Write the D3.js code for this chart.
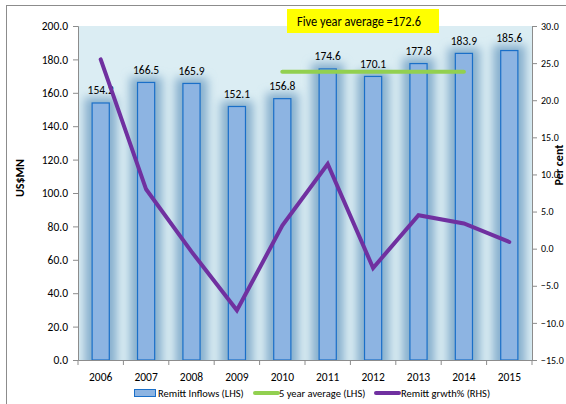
<!DOCTYPE html>
<html>
<head>
<meta charset="utf-8">
<script src="https://cdn.jsdelivr.net/npm/d3@7"></script>
<style>
  body { margin: 0; background: #fff; }
  text { font-family: Carlito, "Liberation Sans Narrow", Lato, sans-serif; fill: #000; }
</style>
</head>
<body>
<div id="canvas"></div>
<script>
"use strict"

/* data */
let years = ["2006", "2007", "2008", "2009", "2010", "2011", "2012", "2013", "2014", "2015"];
let inflows = [154.2, 166.5, 165.9, 152.1, 156.8, 174.6, 170.1, 177.8, 183.9, 185.6];
let growth = [25.5, 8.0, -0.4, -8.3, 3.1, 11.4, -2.6, 4.5, 3.4, 0.9];
let avgYears = ["2010", "2014"];
let avgValue = 172.6;
let leftTicks = [0, 20, 40, 60, 80, 100, 120, 140, 160, 180, 200];
let rightTicks = [-15, -10, -5, 0, 5, 10, 15, 20, 25, 30];

let drawing = d3.select("#canvas")
    .append("svg")
    .attr("width", 566)
    .attr("height", 404);

/* outer chart border */
drawing.append("rect")
    .attr("x", 6.5)
    .attr("y", 5.5)
    .attr("width", 600)
    .attr("height", 450)
    .attr("fill", "white")
    .attr("stroke", "#8c8c8c");

let plotLeft = 78, plotRight = 532, plotTop = 26, plotBottom = 360;

/* scales */
let x = d3.scaleBand()
    .domain(years)
    .range([plotLeft, plotRight])
    .paddingInner(0.6)
    .paddingOuter(0.3);

let yL = d3.scaleLinear().domain([0, 200]).range([plotBottom, plotTop]);
let yR = d3.scaleLinear().domain([-15, 30]).range([plotBottom, plotTop]);

/* defs: glow + clip */
let defs = drawing.append("defs");
defs.append("filter")
    .attr("id", "glow")
    .attr("x", "-100%").attr("y", "-20%")
    .attr("width", "300%").attr("height", "140%")
    .append("feGaussianBlur")
    .attr("stdDeviation", 5);
defs.append("clipPath")
    .attr("id", "plotClip")
    .append("rect")
    .attr("x", plotLeft).attr("y", plotTop)
    .attr("width", plotRight - plotLeft).attr("height", plotBottom - plotTop);

/* plot background */
drawing.append("rect")
    .attr("x", plotLeft)
    .attr("y", plotTop)
    .attr("width", plotRight - plotLeft)
    .attr("height", plotBottom - plotTop)
    .attr("fill", "#dbedf3");

/* bar glow */
drawing.append("g")
    .attr("clip-path", "url(#plotClip)")
    .append("g")
    .attr("filter", "url(#glow)")
    .selectAll("rect")
    .data(inflows)
    .join("rect")
    .attr("x", (d, i) => x(years[i]) - 7)
    .attr("y", d => yL(d) - 5)
    .attr("width", x.bandwidth() + 14)
    .attr("height", d => plotBottom - yL(d) + 20)
    .attr("fill", "#86afcd");

/* bars */
drawing.append("g")
    .selectAll("rect")
    .data(inflows)
    .join("rect")
    .attr("x", (d, i) => x(years[i]) + 0.5)
    .attr("y", d => yL(d) + 0.5)
    .attr("width", x.bandwidth() - 1)
    .attr("height", d => plotBottom - yL(d) - 0.5)
    .attr("fill", "#8db4e2")
    .attr("stroke", "#1a6fc8")
    .attr("stroke-width", 1.2);

/* bar labels */
drawing.append("g")
    .selectAll("text")
    .data(inflows)
    .join("text")
    .attr("x", (d, i) => x(years[i]) + x.bandwidth() / 2)
    .attr("y", d => yL(d) - 8)
    .attr("text-anchor", "middle")
    .attr("font-size", 11.5)
    .text(d => d.toFixed(1));

/* five year average line */
drawing.append("line")
    .attr("x1", x(avgYears[0]) + x.bandwidth() / 2)
    .attr("x2", x(avgYears[1]) + x.bandwidth() / 2)
    .attr("y1", yL(avgValue))
    .attr("y2", yL(avgValue))
    .attr("stroke", "#92d050")
    .attr("stroke-width", 4)
    .attr("stroke-linecap", "round");

/* growth line */
let growthLine = d3.line()
    .x((d, i) => x(years[i]) + x.bandwidth() / 2)
    .y(d => yR(d));

drawing.append("path")
    .datum(growth)
    .attr("d", growthLine)
    .attr("fill", "none")
    .attr("stroke", "#7030a0")
    .attr("stroke-width", 4)
    .attr("stroke-linejoin", "miter")
    .attr("stroke-linecap", "round");

/* axes */
let leftAxis = drawing.append("g")
    .attr("transform", "translate(" + plotLeft + ",0)")
    .call(d3.axisLeft(yL).tickValues(leftTicks).tickFormat(d3.format(".1f")).tickSize(5).tickPadding(5));

let rightAxis = drawing.append("g")
    .attr("transform", "translate(" + plotRight + ",0)")
    .call(d3.axisRight(yR).tickValues(rightTicks).tickFormat(d3.format(".1f")).tickSize(5).tickPadding(4));

let bottomAxis = drawing.append("g")
    .attr("transform", "translate(0," + plotBottom + ")")
    .call(d3.axisBottom(x).tickSize(0).tickPadding(13));

/* category boundary ticks on x axis */
let step = x.step();
drawing.append("g")
    .selectAll("line")
    .data(d3.range(years.length + 1))
    .join("line")
    .attr("x1", k => plotLeft + k * step)
    .attr("x2", k => plotLeft + k * step)
    .attr("y1", plotBottom)
    .attr("y2", plotBottom + 5)
    .attr("stroke", "#8c8c8c");

[leftAxis, rightAxis, bottomAxis].forEach(function (ax) {
    ax.select(".domain").attr("stroke", "#8c8c8c");
    ax.selectAll(".tick line").attr("stroke", "#8c8c8c");
    ax.selectAll("text").attr("font-size", 11.5).attr("fill", "#000")
        .style("font-family", "Carlito, 'Liberation Sans Narrow', Lato, sans-serif");
});
rightAxis.selectAll("text").attr("font-size", 10);

/* axis titles */
drawing.append("text")
    .attr("transform", "translate(24,178) rotate(-90)")
    .attr("text-anchor", "middle")
    .attr("font-size", 12)
    .attr("font-weight", "bold")
    .text("US$MN");

drawing.append("text")
    .attr("transform", "translate(563,165) rotate(-90)")
    .attr("text-anchor", "middle")
    .attr("font-size", 12)
    .attr("font-weight", "bold")
    .text("Per cent");

/* yellow title box */
drawing.append("rect")
    .attr("x", 287)
    .attr("y", 9)
    .attr("width", 152)
    .attr("height", 24)
    .attr("fill", "#ffff00");

drawing.append("text")
    .attr("x", 297)
    .attr("y", 26)
    .attr("font-size", 14)
    .attr("textLength", 124)
    .attr("lengthAdjust", "spacingAndGlyphs")
    .text("Five year average =172.6");

/* legend */
let legend = drawing.append("g").attr("font-size", 10.5);

legend.append("rect")
    .attr("x", 134.5).attr("y", 389.5)
    .attr("width", 21).attr("height", 7)
    .attr("fill", "#8db4e2")
    .attr("stroke", "#1a6fc8");
legend.append("text")
    .attr("x", 158).attr("y", 397)
    .text("Remitt Inflows (LHS)");

legend.append("line")
    .attr("x1", 255).attr("x2", 278)
    .attr("y1", 393).attr("y2", 393)
    .attr("stroke", "#92d050")
    .attr("stroke-width", 4)
    .attr("stroke-linecap", "round");
legend.append("text")
    .attr("x", 279).attr("y", 397)
    .text("5 year average (LHS)");

legend.append("line")
    .attr("x1", 376).attr("x2", 399)
    .attr("y1", 393).attr("y2", 393)
    .attr("stroke", "#7030a0")
    .attr("stroke-width", 4)
    .attr("stroke-linecap", "round");
legend.append("text")
    .attr("x", 401).attr("y", 397)
    .text("Remitt grwth% (RHS)");
</script>
</body>
</html>
